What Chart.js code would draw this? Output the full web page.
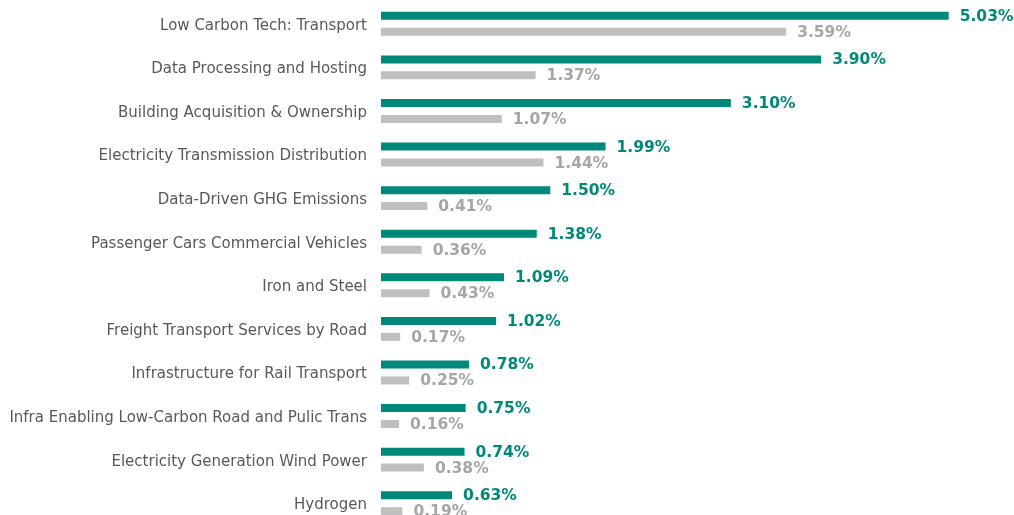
<!DOCTYPE html>
<html>
<head>
<meta charset="utf-8">
<script src="https://cdn.jsdelivr.net/npm/chart.js@4/dist/chart.umd.min.js"></script>
<style>
  html, body { margin: 0; padding: 0; background: #fff; overflow: hidden; }
  #wrap { width: 1014px; height: 525px; }
</style>
</head>
<body>
<div id="wrap"><canvas id="chart"></canvas></div>
<script>
const categories = [
  "Low Carbon Tech: Transport",
  "Data Processing and Hosting",
  "Building Acquisition & Ownership",
  "Electricity Transmission Distribution",
  "Data-Driven GHG Emissions",
  "Passenger Cars Commercial Vehicles",
  "Iron and Steel",
  "Freight Transport Services by Road",
  "Infrastructure for Rail Transport",
  "Infra Enabling Low-Carbon Road and Pulic Trans",
  "Electricity Generation Wind Power",
  "Hydrogen"
];
const seriesA = [5.03, 3.90, 3.10, 1.99, 1.50, 1.38, 1.09, 1.02, 0.78, 0.75, 0.74, 0.63];
const seriesB = [3.59, 1.37, 1.07, 1.44, 0.41, 0.36, 0.43, 0.17, 0.25, 0.16, 0.38, 0.19];

const teal = "#00897B";
const grey = "#BFBFBF";
const greyText = "#A6A6A6";

// etiquetas de valor al final de cada barra
const valueLabels = {
  id: "valueLabels",
  afterDatasetsDraw(chart) {
    const ctx = chart.ctx;
    ctx.save();
    ctx.font = "bold 15.5px Verdana, 'DejaVu Sans', sans-serif";
    ctx.textAlign = "left";
    ctx.textBaseline = "middle";
    chart.data.datasets.forEach((ds, i) => {
      const meta = chart.getDatasetMeta(i);
      ctx.fillStyle = ds.labelColor;
      meta.data.forEach((bar, j) => {
        ctx.fillText(ds.data[j].toFixed(2) + "%", bar.x + 11, bar.y + 1);
      });
    });
    ctx.restore();
  }
};

new Chart(document.getElementById("chart"), {
  type: "bar",
  data: {
    labels: categories,
    datasets: [
      { data: seriesA, backgroundColor: teal, labelColor: teal,
        categoryPercentage: 0.734, barPercentage: 0.5 },
      { data: seriesB, backgroundColor: grey, labelColor: greyText,
        categoryPercentage: 0.734, barPercentage: 0.5 }
    ]
  },
  options: {
    indexAxis: "y",
    responsive: true,
    maintainAspectRatio: false,
    animation: false,
    layout: { padding: { top: 2, bottom: 0, left: 0, right: 1 } },
    plugins: {
      legend: { display: false },
      tooltip: { enabled: false }
    },
    scales: {
      x: {
        display: false,
        min: 0,
        max: 5.6
      },
      y: {
        grid: { display: false, drawTicks: false },
        border: { display: false },
        afterFit(scale) {
          scale.width = 381;
          scale.paddingTop = 0;
          scale.paddingBottom = 0;
        },
        ticks: {
          padding: 14,
          color: "#595959",
          // linea vacia arriba para bajar el texto 2px
          callback: function(value) { return ["", this.getLabelForValue(value)]; },
          font: { family: "Verdana, 'DejaVu Sans', sans-serif", size: 15, lineHeight: "4px" }
        }
      }
    }
  },
  plugins: [valueLabels]
});
</script>
</body>
</html>
